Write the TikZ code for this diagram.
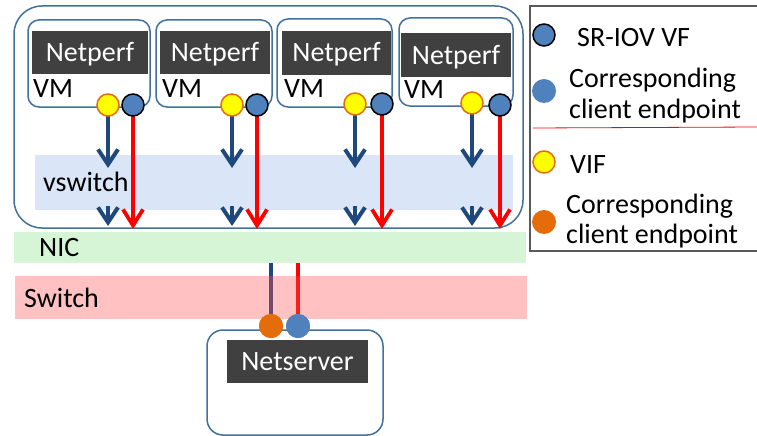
\documentclass[tikz,border=0pt]{standalone}
\usepackage{fontspec}
\setmainfont{Carlito}
\usetikzlibrary{arrows.meta}

\definecolor{frameblue}{RGB}{65,113,156}
\definecolor{dotblue}{RGB}{79,129,189}
\definecolor{arrowblue}{RGB}{31,73,125}
\definecolor{vifyellow}{RGB}{255,255,0}
\definecolor{viforange}{RGB}{228,108,10}
\definecolor{darkbox}{RGB}{64,64,64}
\definecolor{vswitchfill}{RGB}{218,229,248}
\definecolor{nicfill}{RGB}{214,245,214}
\definecolor{switchfill}{RGB}{255,80,80}
\definecolor{legendframe}{RGB}{90,90,90}

\tikzset{
  bigtext/.style={font=\fontsize{28}{30}\selectfont},
  hostbox/.style={draw=frameblue, line width=1.5pt, rounded corners=28pt, fill=white},
  vmbox/.style={draw=frameblue, line width=1.5pt, rounded corners=11pt, fill=white, inner sep=0pt},
  appbox/.style={fill=darkbox, text=white, bigtext, inner sep=0pt, text height=18pt, text depth=0pt},
  vfdot/.style={circle, draw=black, line width=1.5pt, fill=dotblue, minimum size=22pt, inner sep=0pt},
  vifdot/.style={circle, draw=viforange, line width=1.5pt, fill=vifyellow, minimum size=22pt, inner sep=0pt},
  peerblue/.style={circle, fill=dotblue, minimum size=24pt, inner sep=0pt},
  peerorange/.style={circle, fill=viforange, minimum size=24pt, inner sep=0pt},
  vifpath/.style={draw=arrowblue, line width=4.2pt, -{Straight Barb[length=15pt,width=20pt,line width=4pt]}},
  vfpath/.style={draw=red, line width=3.8pt, -{Straight Barb[length=16pt,width=20pt,line width=3.8pt]}},
  txt/.style={bigtext, inner sep=0pt, anchor=base west},
}

\begin{document}
\begin{tikzpicture}[x=1pt,y=-1pt]
\useasboundingbox (0,0) rectangle (757,436);
\fill[white] (0,0) rectangle (757,436);

% host and virtual switch
\node[hostbox, minimum width=509pt, minimum height=222pt] (host) at (268.5,117) {};
\fill[vswitchfill] (35,155) rectangle (513,210);
\node[txt] (vsw) at (43,191) {vswitch};

% NIC band
\fill[nicfill] (14,232) rectangle (526,263);
\node[txt] (nic) at (39,256) {NIC};

% virtual machines
\foreach \i/\cx/\cy/\w/\h/\px/\py/\pw/\ph/\vx/\vy/\yx/\yy/\bx/\by in {
  1/89/63.5/122/87/90/52.5/116/43/33/97/108/105/133/105,
  2/214/63.5/116/87/215/52.5/110/43/162/97/232/105/257/105,
  3/334.5/63/115/88/336.5/53/109/44/284/97/355/104/382/104,
  4/456/62/114/88/456/55/110/44/404/98/472/103/500/105}{
  \node[vmbox, minimum width=\w pt, minimum height=\h pt] (vm\i) at (\cx,\cy) {};
  \node[appbox, minimum width=\pw pt, minimum height=\ph pt] (perf\i) at (\px,\py) {Netperf};
  \node[txt] (vmlabel\i) at (\vx,\vy) {VM};
  \coordinate (viftip\i) at (\yx,168);
  \coordinate (vswin\i) at (\yx,206);
  \coordinate (vswout\i) at (\yx,226);
  \coordinate (vftip\i) at (\bx,229);
  \draw[vifpath] (\yx,\yy+10) -- (viftip\i);
  \draw[vifpath] (vswin\i) -- (vswout\i);
  \draw[vfpath] (\bx,\by+10) -- (vftip\i);
  \node[vifdot] (vif\i) at (\yx,\yy) {};
  \node[vfdot] (vf\i) at (\bx,\by) {};
}

% links from the NIC through the physical switch
\node[peerorange] (peerA) at (271,326) {};
\node[peerblue] (peerB) at (298,326) {};
\coordinate (nicA) at (271,263);
\coordinate (nicB) at (298,263);
\draw[arrowblue, line width=4.2pt] (nicA) -- (peerA.north);
\draw[red, line width=4pt] (nicB) -- (peerB.north);

% physical switch band, translucent over the links
\fill[switchfill, fill opacity=0.35] (15,276) rectangle (527,319);
\node[txt] (sw) at (24,307) {Switch};

% netserver host
\draw[frameblue, line width=1.5pt, rounded corners=16pt] (207,330) rectangle (383,435);
\node[peerorange] at (peerA) {};
\node[peerblue] at (peerB) {};
\node[appbox, minimum width=141pt, minimum height=43pt] (srv) at (297.5,361.5) {Netserver};

% legend
\draw[legendframe, line width=1.5pt] (530,6) rectangle (762,251);
\node[vfdot] (lgvf) at (544,35) {};
\node[txt] at (577,47) {SR-IOV VF};
\node[peerblue] (lgpb) at (544,91) {};
\node[txt] at (569,88) {Corresponding};
\node[txt] at (569,118) {client endpoint};
\draw[red, line width=0.8pt] (533,128) -- (757,127);
\node[vifdot] (lgvif) at (544,162) {};
\node[txt] at (570,173) {VIF};
\node[peerorange] (lgpo) at (544,222) {};
\node[txt] at (566,213) {Corresponding};
\node[txt] at (566,243) {client endpoint};
\end{tikzpicture}
\end{document}
